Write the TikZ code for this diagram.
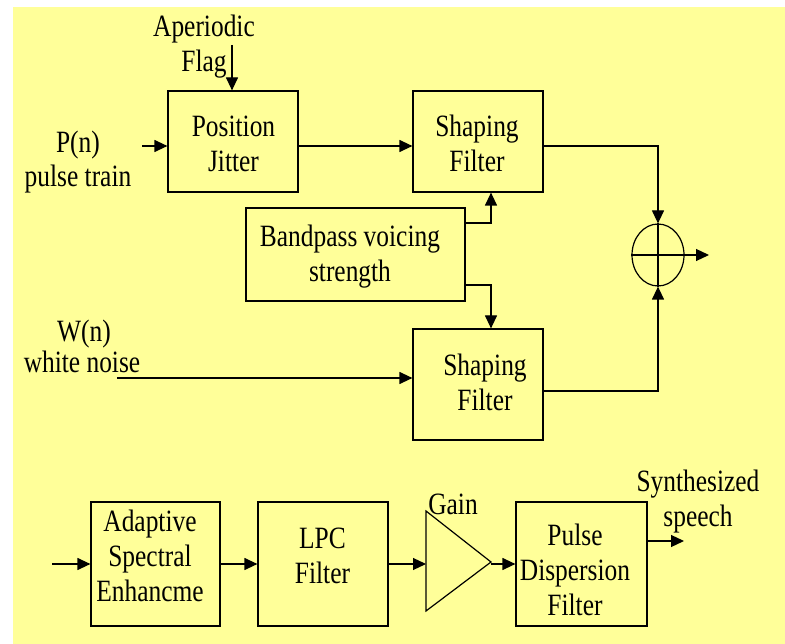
\documentclass[tikz,border=0pt]{standalone}
\usepackage{fontspec}
\setmainfont{Liberation Serif}[FakeStretch=0.82]
\usetikzlibrary{arrows.meta,shapes.geometric}
\definecolor{bgyellow}{HTML}{FFFF99}
\begin{document}
\begin{tikzpicture}[x=1pt,y=-1pt,
  every node/.style={font=\fontsize{31}{35}\selectfont},
  blk/.style={draw,line width=1.2pt,rectangle,inner sep=0pt},
  arr/.style={line width=1.2pt,-{Triangle[length=13pt,width=12pt]}},
  ln/.style={line width=1.2pt},
  lbl/.style={inner sep=0pt,anchor=base,align=center}]
\useasboundingbox (0,0) rectangle (785,644);
\fill[bgyellow] (13,7) rectangle (785,644);
% top section boxes
\node[blk,minimum width=130pt,minimum height=101pt] (pj) at (233,141.5) {};
\node[blk,minimum width=130pt,minimum height=101pt] (sf1) at (478,141.5) {};
\node[blk,minimum width=219pt,minimum height=93pt] (bp) at (355.5,254.5) {};
\node[blk,minimum width=130pt,minimum height=111pt] (sf2) at (478,384.5) {};
\node[draw,line width=1.2pt,ellipse,minimum width=52pt,minimum height=62pt,inner sep=0pt] (sum) at (658,255) {};
\draw[ln] (sum.west) -- (sum.east);
\draw[ln] (sum.north) -- (sum.south);
% box texts (anchor = baseline of last line)
\node[lbl] (pjt) at (233.5,172) {Position\\Jitter};
\node[lbl] (sf1t) at (477,172) {Shaping\\Filter};
\node[lbl] (bpt) at (350,282) {Bandpass voicing\\strength};
\node[lbl] (sf2t) at (485,410) {Shaping\\Filter};
% labels
\node[lbl] (ap) at (204,72) {Aperiodic\\Flag};
\node[lbl] (pn) at (78,153) {P(n)};
\node[lbl] (pt) at (78,187) {pulse train};
\node[lbl] (wn) at (84,342) {W(n)};
\node[lbl] (wh) at (82,373) {white noise};
\coordinate (afin) at (232,45);
\coordinate (pin) at (142,146);
\coordinate (win) at (117,378);
\coordinate (sout) at (709,255);
\draw[arr] (afin) -- (afin |- pj.north);
\draw[arr] (pin) -- (pin -| pj.west);
\draw[arr] ([yshift=-4.5pt]pj.east) -- ([yshift=-4.5pt]sf1.west);
\draw[arr] ([yshift=-4.5pt]sf1.east) -| (sum.north);
\draw[arr] ([yshift=-6.5pt]sf2.east) -| (sum.south);
\draw[arr] ([yshift=31.5pt]bp.east) -| ([xshift=13pt]sf1.south);
\draw[arr] ([yshift=-30.5pt]bp.east) -| ([xshift=13pt]sf2.north);
\draw[arr] (win) -- (win -| sf2.west);
\draw[arr] (sum.east) -- (sout);
% bottom section
\node[blk,minimum width=129pt,minimum height=124pt] (ase) at (155.5,564) {};
\node[blk,minimum width=130pt,minimum height=124pt] (lpc) at (323,564) {};
\node[blk,minimum width=131pt,minimum height=124pt] (pd) at (581.5,564) {};
\node[lbl] (aset) at (150,601) {Adaptive\\Spectral\\Enhancme};
\node[lbl] (lpct) at (322.5,583) {LPC\\Filter};
\node[lbl] (pdt) at (575,615) {Pulse\\Dispersion\\Filter};
\coordinate (gtop) at (426,511);
\coordinate (gbot) at (426,611);
\coordinate (gout) at (491,562);
\coordinate (gin) at (426,564);
\draw[ln,line join=miter] (gtop) -- (gbot) -- (gout) -- cycle;
\node[lbl] (gain) at (453,514) {Gain};
\node[lbl] (syn) at (698,526) {Synthesized\\speech};
\coordinate (bin) at (52,564);
\coordinate (pout) at (684,541);
\draw[arr] (bin) -- (ase.west);
\draw[arr] (ase.east) -- (lpc.west);
\draw[arr] (lpc.east) -- (gin);
\draw[arr] (gout |- pd.west) -- (pd.west);
\draw[arr] ([yshift=23pt]pd.east) -- (pout);
\end{tikzpicture}
\end{document}
